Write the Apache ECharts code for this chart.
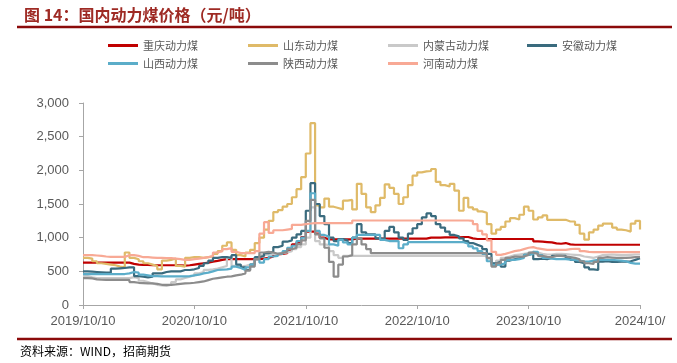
<!DOCTYPE html>
<html>
<head>
<meta charset="utf-8">
<script src="https://cdn.jsdelivr.net/npm/echarts@6/dist/echarts.min.js"></script>
<style>
html,body{margin:0;padding:0;background:#fff;}
#chart{width:677px;height:363px;}
</style>
</head>
<body>
<div id="chart"></div>
<script>
// x: half-month steps from 2019/10/10 (index 0) to 2024/10/10 (index 120)
const xTickLabels = ["2019/10/10","2020/10/10","2021/10/10","2022/10/10","2023/10/10","2024/10/"];
const seriesNames = ["重庆动力煤","山东动力煤","内蒙古动力煤","安徽动力煤","山西动力煤","陕西动力煤","河南动力煤"];

const chongqing = [630,630,630,630,630,630,630,630,630,630,
610,600,595,595,590,590,590,590,590,590,
590,585,590,600,610,620,630,645,655,670,
680,680,680,680,680,680,680,680,690,700,
720,750,760,770,820,900,930,1010,1090,1090,
1060,1000,975,975,975,975,975,975,985,985,
985,985,985,985,985,985,985,985,985,985,
985,985,985,985,1000,1000,1000,1005,1005,1005,
1005,1010,1010,990,980,980,980,980,980,980,
980,980,980,980,980,980,977,945,940,935,
930,915,910,920,900,895,895,895,895,895,
895,895,895,895,895,895,895,895,895,895,
895];

const shandong = [700,690,650,620,610,600,590,570,560,780,
700,680,650,620,600,580,530,660,670,690,
580,570,700,710,710,700,710,720,760,800,
880,930,820,740,720,780,820,920,1000,1120,
1250,1380,1410,1460,1500,1600,1720,1900,2250,2700,
1480,1450,1580,1460,1440,1420,1550,1560,1420,1800,
1650,1450,1380,1480,1590,1790,1740,1650,1500,1600,
1780,1920,1970,1985,1990,2020,1830,1780,1760,1800,
1700,1400,1590,1450,1420,1390,1370,1200,1060,1120,
1160,1240,1290,1270,1340,1460,1400,1270,1300,1330,
1265,1265,1265,1265,1240,1240,1190,1060,970,1080,
1120,1180,1210,1210,1150,1120,1110,1090,1210,1250,
1120];

const neimenggu = [430,410,400,400,400,400,400,400,400,400,
415,400,360,340,320,300,290,285,300,340,
380,400,420,440,470,490,521,530,540,560,
580,700,580,570,580,600,620,700,740,750,
760,760,770,780,800,830,860,900,1000,1450,
950,900,890,800,740,700,730,730,730,730,
730,730,730,730,730,730,730,730,730,730,
730,730,730,730,730,730,730,730,730,730,
730,730,730,730,730,730,730,680,620,660,
700,720,740,750,760,770,790,780,760,750,
750,760,760,755,750,745,740,720,710,700,
720,740,745,750,745,740,740,745,750,750,
750];

const anhui = [500,495,490,485,480,480,540,545,550,560,
560,430,420,410,420,470,470,490,500,500,
500,520,520,530,550,580,620,660,700,710,
710,700,740,600,560,520,600,710,730,770,
790,860,880,940,960,1000,1050,1100,1400,1810,
1500,1320,1200,1000,950,980,960,920,1000,1200,
1080,1050,1050,990,980,1100,1160,1080,1000,967,
1060,1140,1200,1300,1360,1320,1200,1150,1090,1040,
1020,990,950,920,893,870,830,760,620,640,
570,660,680,695,710,744,770,680,690,680,
700,730,730,730,700,670,640,620,560,530,
520,645,650,640,640,645,645,650,670,695,
695];

const shanxi = [460,460,460,460,460,460,460,460,460,470,
490,480,450,440,430,430,425,425,425,425,
425,425,430,440,450,470,480,500,520,525,
530,540,570,550,521,560,600,680,630,680,
720,730,760,800,850,880,950,1000,1100,1660,
1100,1040,1016,900,880,967,930,900,1000,1040,
1040,1040,1040,1040,967,950,950,950,843,900,
933,933,933,933,933,933,933,933,933,933,
933,933,910,870,840,800,760,650,595,600,
620,670,670,680,700,744,760,790,740,700,
690,680,680,680,675,670,660,650,645,660,
670,670,670,670,665,660,650,625,615,615,
620];

const shaanxi = [400,395,380,375,372,372,372,372,372,372,
340,330,325,320,320,315,300,300,300,305,
315,320,323,330,340,350,370,390,400,410,
420,425,440,450,470,510,570,680,780,790,
780,760,770,790,830,850,900,960,1250,1560,
1050,990,850,640,420,600,720,740,900,990,
900,830,770,770,770,770,770,770,770,770,
770,770,770,770,770,770,770,770,770,770,
770,770,770,770,770,770,770,700,570,620,
670,700,719,719,719,744,778,760,730,715,
710,729,729,720,710,700,680,650,620,610,
640,700,710,705,700,700,700,705,710,712,
715];

const henan = [740,740,735,730,720,715,715,715,715,740,
740,730,710,710,705,700,700,695,695,690,
680,670,670,680,690,700,710,730,780,800,
830,845,790,770,770,770,770,800,1060,1230,
1070,1110,1110,1120,1130,1190,1190,1200,1210,1215,
1215,1215,1215,1215,1215,1215,1215,1215,1255,1255,
1255,1255,1255,1255,1255,1255,1255,1255,1255,1255,
1255,1255,1255,1255,1255,1255,1255,1255,1255,1255,
1255,1255,1255,1250,1200,1100,1050,960,790,745,
760,780,800,810,830,850,860,840,830,820,
818,818,818,820,830,835,835,800,790,785,
785,785,785,785,785,785,785,785,785,785,
785];

const seriesData = [chongqing, shandong, neimenggu, anhui, shanxi, shaanxi, henan];
const colors = ["#C00000","#DFBA68","#C9C9C9","#3A6B7E","#5BADC9","#8C8C8C","#F8A995"];

const chart = echarts.init(document.getElementById('chart'), null, {renderer:'canvas'});

const legendPos = [[103,35],[243,35],[383,35],[522,35],[103,53],[243,53],[383,53]];
const legends = seriesNames.map((n,k)=>({
  data:[n], left:legendPos[k][0], top:legendPos[k][1],
  icon:'rect', itemWidth:30, itemHeight:3, itemGap:6,
  textStyle:{fontSize:11, color:'#595959', fontFamily:'Noto Sans CJK SC'},
  selectedMode:false
}));

const series = seriesNames.map((n,k)=>({
  name:n, type:'line', step:'end', showSymbol:false, symbol:'none',
  data: seriesData[k].map((v,i)=>[i,v]),
  lineStyle:{width:2.2, color:colors[k]},
  itemStyle:{color:colors[k]},
  z: 2
}));

chart.setOption({
  animation:false,
  backgroundColor:'#fff',
  title:{
    text:'图 14：国内动力煤价格（元/吨）', left:19, top:2,
    textStyle:{fontSize:16, fontWeight:'bold', color:'#9E2A24', fontFamily:'Noto Sans CJK SC'}
  },
  legend: legends,
  grid:{left:83, right:37, top:103, bottom:58},
  xAxis:{
    type:'value', min:0, max:120, interval:24,
    axisLine:{lineStyle:{color:'#A6A6A6', width:1}},
    axisTick:{show:true, length:4, lineStyle:{color:'#A6A6A6'}},
    splitLine:{show:false},
    axisLabel:{
      margin:10, fontSize:13, color:'#595959', fontFamily:'Liberation Sans',
      formatter:(v)=>xTickLabels[Math.round(v/24)]
    }
  },
  yAxis:{
    type:'value', min:0, max:3000, interval:500,
    axisLine:{show:true, lineStyle:{color:'#A6A6A6', width:1}},
    axisTick:{show:true, length:4, lineStyle:{color:'#A6A6A6'}},
    splitLine:{show:false},
    axisLabel:{
      margin:14, fontSize:13, color:'#595959', fontFamily:'Liberation Sans',
      formatter:(v)=>v.toLocaleString('en-US')
    }
  },
  graphic:[
    {type:'line', shape:{x1:17,y1:27,x2:672,y2:27}, style:{stroke:'#8B0A0A', lineWidth:2.5}},
    {type:'line', shape:{x1:17,y1:339,x2:672,y2:339}, style:{stroke:'#8B0A0A', lineWidth:2.5}},
    {type:'text', left:20, top:345, style:{text:'资料来源：WIND，招商期货', fontSize:12, fill:'#000', fontFamily:'Noto Sans CJK SC'}}
  ],
  series: series
});
</script>
</body>
</html>
